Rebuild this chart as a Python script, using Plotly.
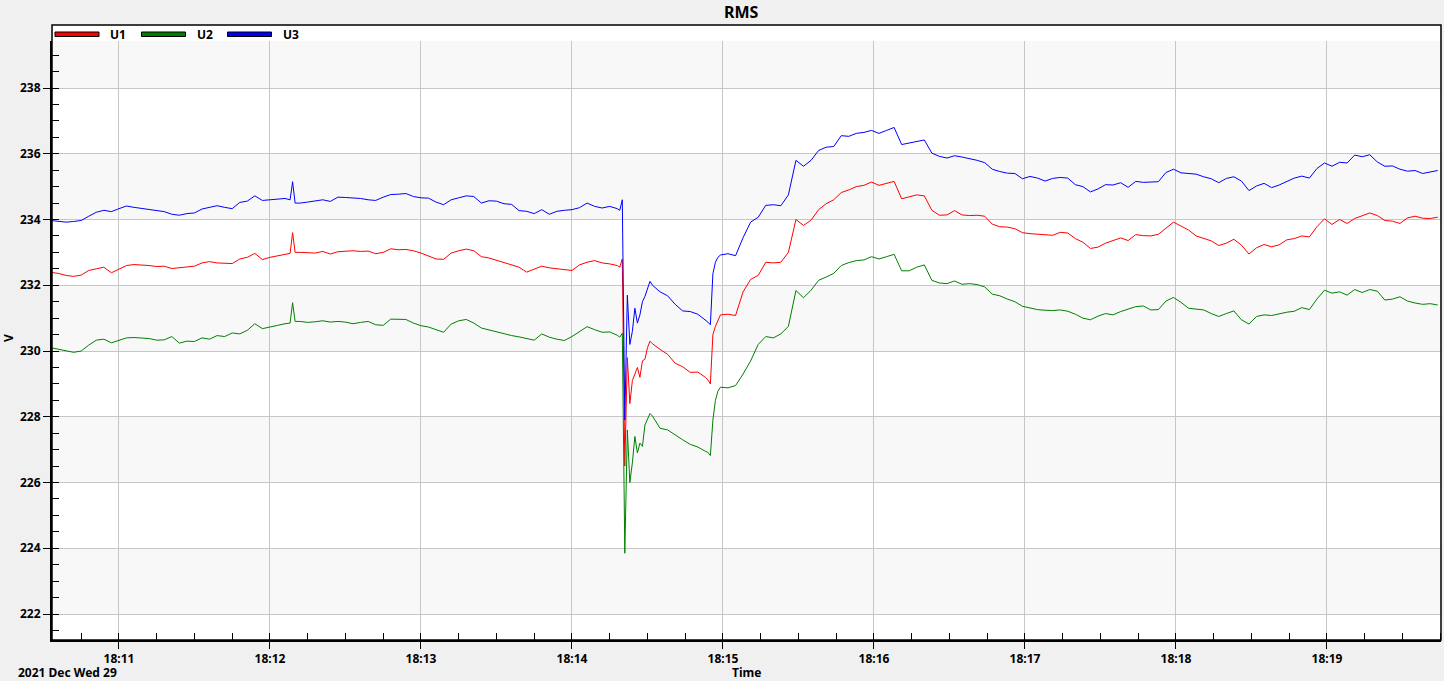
import pandas as pd
import plotly.graph_objects as go

# ---------------- data ----------------
# sample times, seconds after 18:10:00 on 2021-12-29
secs = (list(range(33, 127, 3)) + [128, 129, 130] + list(range(132, 258, 3))
        + list(range(258, 272)) + list(range(272, 294, 3)) + list(range(294, 299))
        + list(range(299, 586, 3)))

u1 = [232.39, 232.36, 232.30, 232.27, 232.31, 232.45, 232.50, 232.55, 232.38, 232.50,
      232.60, 232.63, 232.62, 232.60, 232.57, 232.58, 232.51, 232.53, 232.56, 232.58,
      232.68, 232.72, 232.68, 232.67, 232.66, 232.80, 232.85, 232.97, 232.78, 232.85,
      232.90, 232.96,
      232.97, 233.60, 233.00,
      233.00, 232.98, 232.98, 233.03, 232.95, 233.02, 233.04, 233.05, 233.03, 233.04,
      232.96, 233.00, 233.11, 233.08, 233.09, 233.05, 232.98, 232.88, 232.80, 232.79,
      232.98, 233.05, 233.10, 233.05, 232.87, 232.83, 232.76, 232.68, 232.62, 232.55,
      232.40, 232.50, 232.58, 232.53, 232.50, 232.48, 232.45, 232.62, 232.70, 232.75,
      232.68, 232.65,
      232.60, 232.55, 232.80, 226.50, 229.80, 228.40, 229.10, 229.30, 229.50, 229.20,
      229.70, 229.75, 230.10, 230.30,
      230.22, 230.05, 229.90, 229.63, 229.52, 229.35, 229.36, 229.20,
      229.12, 229.00, 230.50, 230.75, 230.90,
      231.10, 231.12, 231.08, 231.80, 232.18, 232.30, 232.70, 232.68, 232.70, 233.00,
      234.00, 233.82, 233.98, 234.30, 234.48, 234.60, 234.82, 234.90, 235.00, 235.04,
      235.14, 235.04, 235.10, 235.16, 234.63, 234.69, 234.75, 234.72, 234.28, 234.13,
      234.14, 234.27, 234.14, 234.12, 234.13, 234.10, 233.86, 233.78, 233.77, 233.72,
      233.60, 233.57, 233.55, 233.52, 233.52, 233.61, 233.59, 233.42, 233.31, 233.12,
      233.16, 233.28, 233.36, 233.44, 233.36, 233.54, 233.51, 233.50, 233.55, 233.75,
      233.92, 233.80, 233.68, 233.50, 233.42, 233.35, 233.21, 233.28, 233.40, 233.22,
      232.95, 233.14, 233.24, 233.17, 233.23, 233.38, 233.42, 233.50, 233.47, 233.78,
      234.02, 233.85, 234.00, 233.88, 234.03, 234.12, 234.20, 234.12, 233.97, 233.95,
      233.88, 234.05, 234.10, 234.04, 234.03, 234.07]

u2 = [230.10, 230.06, 230.02, 229.96, 230.00, 230.18, 230.33, 230.36, 230.25, 230.33,
      230.40, 230.41, 230.39, 230.38, 230.33, 230.34, 230.44, 230.24, 230.30, 230.29,
      230.40, 230.36, 230.47, 230.44, 230.55, 230.52, 230.63, 230.83, 230.68, 230.72,
      230.78, 230.83,
      230.85, 231.47, 230.90,
      230.90, 230.87, 230.89, 230.92, 230.88, 230.90, 230.88, 230.83, 230.87, 230.90,
      230.80, 230.78, 230.97, 230.96, 230.96, 230.85, 230.77, 230.73, 230.66, 230.57,
      230.82, 230.92, 230.96, 230.85, 230.70, 230.64, 230.58, 230.52, 230.47, 230.43,
      230.38, 230.33, 230.52, 230.42, 230.36, 230.32, 230.44, 230.60, 230.74, 230.65,
      230.57, 230.58,
      230.48, 230.42, 230.54, 223.85, 227.60, 226.00, 226.60, 227.40, 226.90, 227.20,
      227.10, 227.75, 227.95, 228.10,
      228.02, 227.65, 227.60, 227.44, 227.30, 227.16, 227.08, 226.95,
      226.92, 226.82, 227.90, 228.50, 228.78,
      228.90, 228.88, 228.95, 229.30, 229.70, 230.20, 230.44, 230.40, 230.52, 230.75,
      231.84, 231.62, 231.85, 232.15, 232.25, 232.36, 232.60, 232.69, 232.75, 232.77,
      232.87, 232.80, 232.87, 232.94, 232.44, 232.44, 232.55, 232.62, 232.15, 232.07,
      232.05, 232.13, 232.03, 232.05, 232.02, 231.95, 231.73, 231.68, 231.58, 231.50,
      231.36, 231.30, 231.26, 231.24, 231.23, 231.25, 231.21, 231.12, 231.00, 230.95,
      231.06, 231.14, 231.10, 231.20, 231.28, 231.35, 231.37, 231.25, 231.26, 231.52,
      231.63, 231.48, 231.30, 231.28, 231.25, 231.14, 231.05, 231.14, 231.22, 230.95,
      230.82, 231.05, 231.10, 231.08, 231.14, 231.18, 231.21, 231.32, 231.26, 231.58,
      231.85, 231.76, 231.80, 231.70, 231.87, 231.78, 231.87, 231.82, 231.55, 231.58,
      231.65, 231.52, 231.46, 231.42, 231.44, 231.40]

u3 = [233.97, 233.95, 233.92, 233.94, 233.97, 234.10, 234.22, 234.28, 234.24, 234.33,
      234.41, 234.37, 234.34, 234.31, 234.28, 234.24, 234.16, 234.13, 234.18, 234.20,
      234.32, 234.38, 234.42, 234.37, 234.33, 234.52, 234.56, 234.72, 234.58, 234.60,
      234.62, 234.64,
      234.60, 235.15, 234.50,
      234.50, 234.53, 234.56, 234.60, 234.55, 234.68, 234.67, 234.66, 234.64, 234.60,
      234.58, 234.68, 234.76, 234.77, 234.79, 234.70, 234.66, 234.65, 234.53, 234.45,
      234.60, 234.66, 234.72, 234.70, 234.50, 234.57, 234.56, 234.48, 234.46, 234.27,
      234.25, 234.18, 234.30, 234.16, 234.25, 234.28, 234.30, 234.36, 234.50, 234.40,
      234.35, 234.40,
      234.33, 234.28, 234.60, 227.90, 231.70, 230.20, 230.60, 231.30, 230.85, 231.10,
      231.50, 231.66, 231.90, 232.12,
      232.00, 231.80, 231.68, 231.42, 231.22, 231.20, 231.12, 230.95,
      230.88, 230.80, 232.35, 232.70, 232.85,
      232.92, 232.96, 232.90, 233.45, 233.92, 234.07, 234.43, 234.45, 234.42, 234.75,
      235.80, 235.62, 235.80, 236.10, 236.20, 236.22, 236.55, 236.53, 236.62, 236.65,
      236.71, 236.62, 236.71, 236.80, 236.28, 236.32, 236.38, 236.42, 236.02, 235.92,
      235.87, 235.94, 235.90, 235.86, 235.80, 235.73, 235.53, 235.46, 235.41, 235.40,
      235.24, 235.31, 235.26, 235.17, 235.25, 235.28, 235.26, 235.06, 235.00, 234.84,
      234.93, 235.06, 235.05, 235.12, 234.98, 235.16, 235.13, 235.14, 235.15, 235.43,
      235.53, 235.42, 235.39, 235.38, 235.30, 235.24, 235.12, 235.25, 235.30, 235.17,
      234.88, 235.02, 235.10, 234.97, 235.05, 235.16, 235.26, 235.32, 235.26, 235.55,
      235.72, 235.62, 235.74, 235.72, 235.96, 235.91, 235.97, 235.75, 235.62, 235.63,
      235.53, 235.47, 235.49, 235.40, 235.44, 235.49]

series_names = ["U1", "U2", "U3"]
series_colors = ["#ff0000", "#008000", "#0000ff"]
y_ticks = [222, 224, 226, 228, 230, 232, 234, 236, 238]
y_range = [221.21, 239.43]
day = "2021-12-29"
date_label = "2021 Dec Wed 29"

assert len(u1) == len(secs) and len(u2) == len(secs) and len(u3) == len(secs), (len(secs), len(u1), len(u2), len(u3))

# ---------------- figure ----------------
W, H = 1444, 681
ML, MR, MT, MB = 52, 3, 41, 41
PW, PH = W - ML - MR, H - MT - MB
FONT = "Noto Sans"


def px_x(p):
    return (p - ML) / PW


def px_y(p):
    return (H - MB - p) / PH


base = pd.Timestamp(day + " 18:10:00")
times = [base + pd.Timedelta(seconds=s) for s in secs]

fig = go.Figure()
for name, vals, col in zip(series_names, [u1, u2, u3], series_colors):
    fig.add_trace(go.Scatter(x=times, y=vals, mode="lines", name=name,
                             line=dict(color=col, width=1), showlegend=False))

bold = dict(family=FONT, size=12, color="black", weight="bold")

fig.update_layout(
    width=W, height=H,
    margin=dict(l=ML, r=MR, t=MT, b=MB, pad=0),
    paper_bgcolor="#f0f0f0",
    plot_bgcolor="#ffffff",
    font=dict(family=FONT, size=12, color="black"),
    xaxis=dict(
        type="date",
        range=[base + pd.Timedelta(seconds=33.4), base + pd.Timedelta(seconds=585.3)],
        tickformat="%H:%M", dtick=60000, tick0=day + " 18:00:00",
        ticks="outside", ticklen=7, tickwidth=1, tickcolor="black",
        showgrid=True, gridcolor="#c6c6c6", gridwidth=1,
        showline=True, linecolor="black", linewidth=2,
        zeroline=False, tickfont=bold,
        minor=dict(dtick=15000, tick0=day + " 18:00:00", ticks="inside",
                   ticklen=7, tickcolor="black", tickwidth=1, showgrid=False),
    ),
    yaxis=dict(
        range=y_range, tickmode="array", tickvals=y_ticks,
        ticktext=[str(v) for v in y_ticks],
        ticks="outside", ticklen=7, tickwidth=1, tickcolor="black",
        showgrid=True, gridcolor="#c6c6c6", gridwidth=1,
        showline=True, linecolor="black", linewidth=2,
        zeroline=False, tickfont=bold,
        minor=dict(dtick=0.5, tick0=0, ticks="inside", ticklen=7,
                   tickcolor="black", tickwidth=1, showgrid=False),
    ),
)

shapes = []
# alternating horizontal bands
band_edges = y_ticks + [y_range[1]]
for i in range(0, len(band_edges) - 1, 2):
    shapes.append(dict(type="rect", xref="paper", yref="y", x0=0, x1=1,
                       y0=band_edges[i], y1=band_edges[i + 1],
                       fillcolor="#f8f8f8", line=dict(width=0), layer="below"))
# legend strip on top of the plot box
top = px_y(25)
shapes.append(dict(type="rect", xref="paper", yref="paper", x0=0, x1=1, y0=1, y1=top,
                   fillcolor="#ffffff", line=dict(width=0), layer="below"))
# outer box
shapes.append(dict(type="rect", xref="paper", yref="paper", x0=0, x1=1, y0=0, y1=top,
                   fillcolor="rgba(0,0,0,0)", line=dict(color="black", width=1.5),
                   layer="above"))

annotations = []
# legend swatches + labels
sw_x = [55, 141.5, 227.5]
for name, col, sx in zip(series_names, series_colors, sw_x):
    shapes.append(dict(type="rect", xref="paper", yref="paper",
                       x0=px_x(sx), x1=px_x(sx + 44), y0=px_y(36.5), y1=px_y(32),
                       fillcolor=col, line=dict(color="black", width=1), layer="above"))
    annotations.append(dict(text=name, xref="paper", yref="paper", x=px_x(sx + 53),
                            y=px_y(34), xanchor="left", yanchor="middle",
                            showarrow=False, font=bold))

annotations += [
    dict(text="RMS", xref="paper", yref="paper", x=px_x(741), y=px_y(12),
         xanchor="center", yanchor="middle", showarrow=False,
         font=dict(family=FONT, size=16, color="black", weight="bold")),
    dict(text="V", xref="paper", yref="paper", x=px_x(8), y=px_y(338),
         xanchor="center", yanchor="middle", textangle=-90, showarrow=False, font=bold),
    dict(text="Time", xref="paper", yref="paper", x=px_x(746), y=px_y(672),
         xanchor="center", yanchor="middle", showarrow=False, font=bold),
    dict(text=date_label, xref="paper", yref="paper", x=px_x(16), y=px_y(672),
         xanchor="left", yanchor="middle", showarrow=False, font=bold),
]

fig.update_layout(shapes=shapes, annotations=annotations)
fig.write_html("out.html",
               config={"displayModeBar": False},
               post_script="document.body.style.margin='0';"
                           "document.body.style.overflow='hidden';")
